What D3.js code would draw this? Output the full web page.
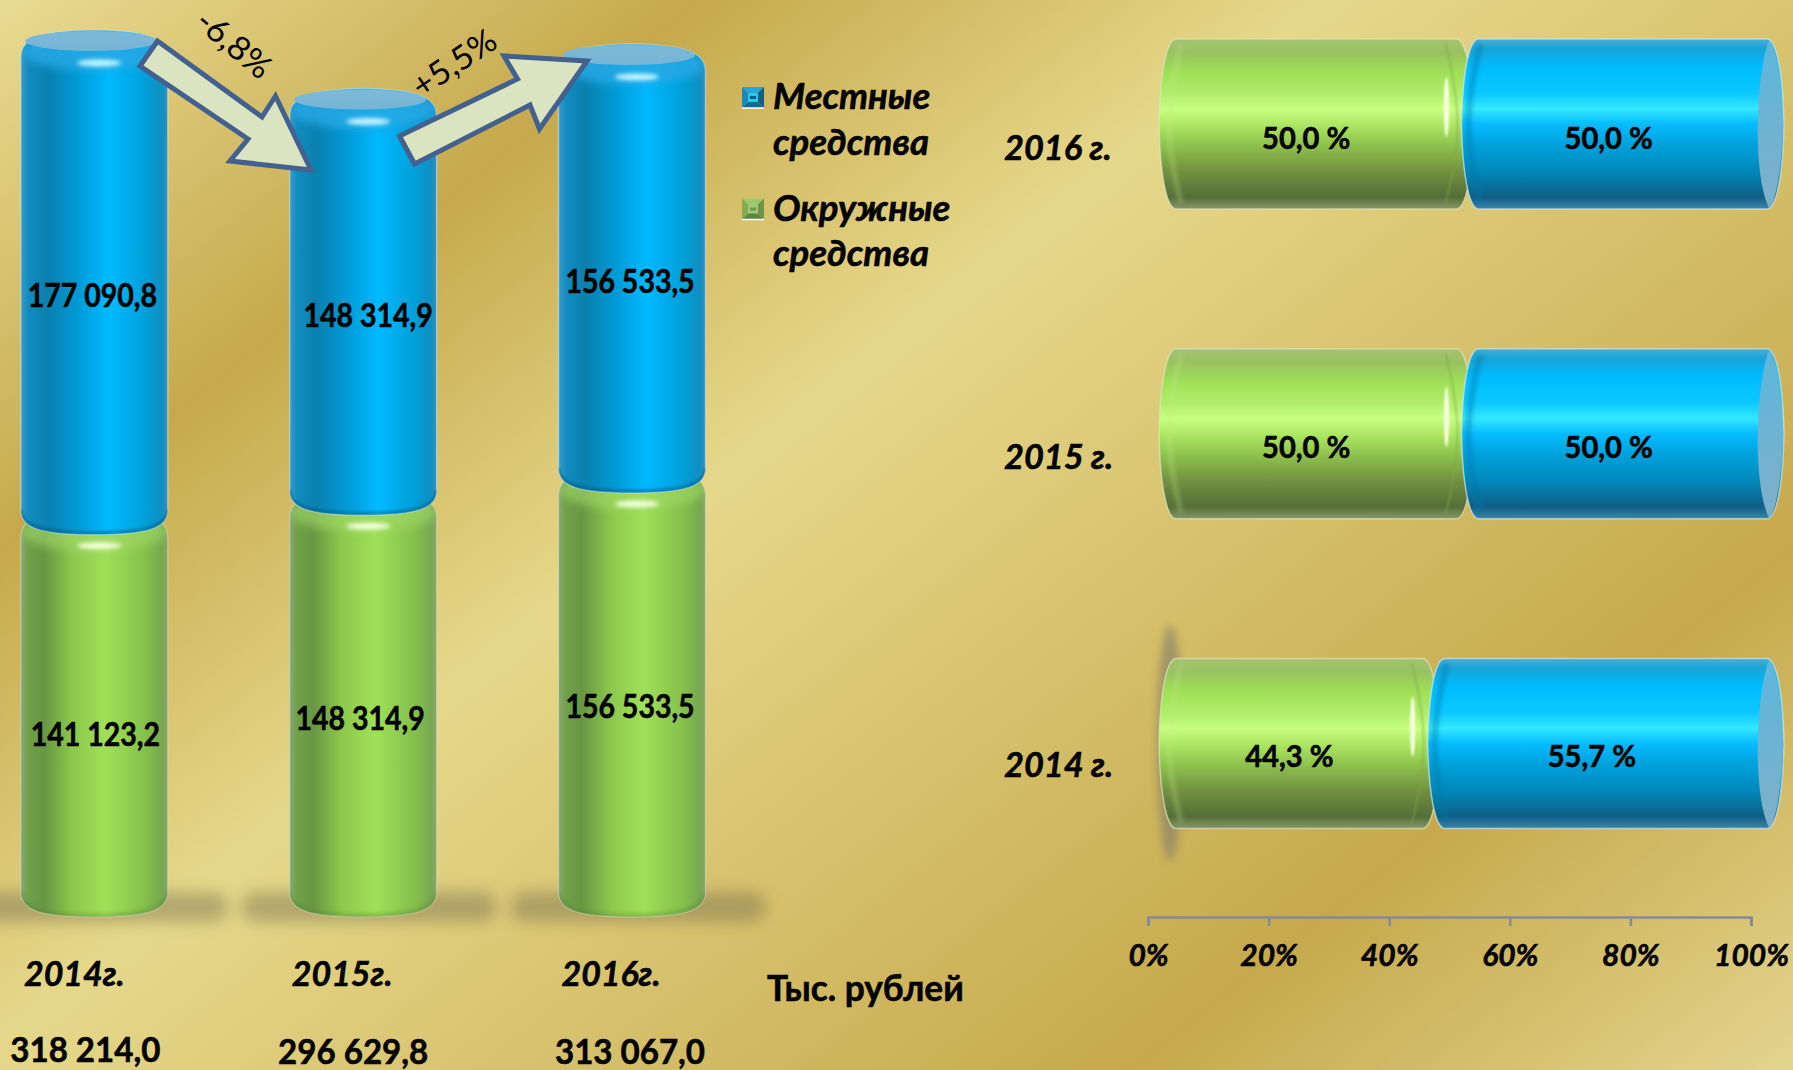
<!DOCTYPE html>
<html><head><meta charset="utf-8">
<script src="https://cdn.jsdelivr.net/npm/d3@7"></script>
<style>html,body{margin:0;padding:0;overflow:hidden;background:#d8c470}svg{display:block}
text{font-family:Lato,"Open Sans",sans-serif;font-weight:700;fill:#000;stroke:#000;stroke-width:.55px}</style></head><body>
<script>
const columnYears = ["2014г.","2015г.","2016г."];
const districtFunds = [141123.2,148314.9,156533.5];
const localFunds = [177090.8,148314.9,156533.5];
const totals = [318214.0,296629.8,313067.0];
const shareYears = ["2016 г.","2015 г.","2014 г."];
const shareDistrict = [50.0,50.0,44.3];
const shareLocal = [50.0,50.0,55.7];
const axisTicks = [0,20,40,60,80,100];
const legendLabels = [["Местные","средства"],["Окружные","средства"]];
const changes = ["-6,8%","+5,5%"];
const unitLabel = "Тыс. рублей";

const W=1793,H=1070;
const svg=d3.select("body").append("svg").attr("width",W).attr("height",H).attr("viewBox",[0,0,W,H]);
const defs=svg.append("defs");
const ru=d3.formatLocale({decimal:",",thousands:" ",grouping:[3],currency:["",""]});
const fmt=ru.format(",.1f");
function fit(sel,f=.9){sel.each(function(){const l=this.getComputedTextLength();d3.select(this).attr("textLength",l*f).attr("lengthAdjust","spacingAndGlyphs");});return sel;}
function grad(id,stops,x2,y2,extra){const g=defs.append("linearGradient").attr("id",id).attr("x1",0).attr("y1",0).attr("x2",x2).attr("y2",y2);
 if(extra)Object.entries(extra).forEach(([k,v])=>g.attr(k,v));
 stops.forEach(([o,c])=>g.append("stop").attr("offset",o).attr("stop-color",c));}
// background
grad("bg",[[0,"#e9db92"],[.222,"#c6a94c"],[.42,"#e6d88b"],[.79,"#c6a94c"],[1,"#e3d48d"]],1205,1532,{gradientUnits:"userSpaceOnUse"});
svg.append("rect").attr("width",W).attr("height",H).attr("fill","url(#bg)");
// cylinder gradients
grad("vBlue",[[0,"#3a9cc8"],[.05,"#128cc0"],[.18,"#0a80ae"],[.4,"#009cd8"],[.6,"#00baff"],[.85,"#009fd8"],[.96,"#118fc2"],[1,"#2f93bf"]],1,0);
grad("vGreen",[[0,"#8aa878"],[.05,"#70a048"],[.16,"#699644"],[.35,"#8cc84c"],[.58,"#a0e058"],[.85,"#84c04c"],[.96,"#78a850"],[1,"#87a86a"]],1,0);
grad("hBlue",[[0,"#4aaed6"],[.06,"#16a4d8"],[.17,"#00bcff"],[.32,"#0cc8ff"],[.41,"#33e8ff"],[.5,"#06bcff"],[.62,"#00a2dc"],[.78,"#0088ba"],[.93,"#0f5f86"],[1,"#3f86aa"]],0,1);
grad("hGreen",[[0,"#a6c274"],[.08,"#99c25f"],[.2,"#a0e058"],[.33,"#b2ee6c"],[.41,"#c8ff80"],[.5,"#aee864"],[.62,"#8fc44e"],[.78,"#72903f"],[.93,"#566e38"],[1,"#86986a"]],0,1);
grad("capV",[[0,"#7cb9da"],[1,"#76b4d4"]],0,1);
grad("capH",[[0,"#5cb8dc"],[.55,"#6fb2d2"],[1,"#7fb0c8"]],0,1);
const blur=(id,s)=>defs.append("filter").attr("id",id).attr("x","-50%").attr("y","-100%").attr("width","200%").attr("height","300%").append("feGaussianBlur").attr("stdDeviation",s);
blur("b1",1);blur("b2",2);blur("b3",4);blur("b8",8);

// ---------- stacked columns ----------
const x=d3.scalePoint().domain(columnYears).range([94.3,632]);
const y=d3.scaleLinear().domain([0,totals[0]]).range([904,42]);
const halfW=73.5, ry=12;
const rows=columnYears.map((c,i)=>({c,i,green:districtFunds[i],blue:localFunds[i],total:totals[i]}));
function cyl(xc,top,bot){
 const l=xc-halfW,r=xc+halfW;
 return `M${l},${top+16}C${l},${top-2} ${xc-halfW*.8},${top-ry+1} ${xc},${top-ry}`+
 `C${xc+halfW*.8},${top-ry+1} ${r},${top-2} ${r},${top+16}L${r},${bot-12}`+
 `C${r},${bot+7} ${xc+halfW*.72},${bot+ry+1} ${xc},${bot+ry+1}C${xc-halfW*.72},${bot+ry+1} ${l},${bot+7} ${l},${bot-12}Z`;
}
const seg=(d,a,b)=>cyl(x(d.c),y(b),y(a));
const col=svg.append("g").selectAll("g").data(rows).join("g");
// floor shadow
col.append("rect").attr("x",d=>x(d.c)-122).attr("y",y(0)-12).attr("width",256).attr("height",30).attr("rx",15)
 .attr("fill","#6e6648").attr("opacity",.42).attr("filter","url(#b8)");
// clips
rows.forEach(d=>{
 defs.append("clipPath").attr("id","cg"+d.i).append("path").attr("d",seg(d,0,d.green));
 defs.append("clipPath").attr("id","cb"+d.i).append("path").attr("d",seg(d,d.green,d.total));
});
// green segment
col.append("path").attr("d",d=>seg(d,0,d.green)).attr("fill","url(#vGreen)").attr("stroke","#d5dcc0").attr("stroke-opacity",.6).attr("stroke-width",1.2);
const gs=col.append("g").attr("clip-path",d=>`url(#cg${d.i})`);
gs.append("ellipse").attr("cx",d=>x(d.c)).attr("cy",d=>y(d.green)+10).attr("rx",halfW).attr("ry",ry+8).attr("fill","#9fd868").attr("opacity",.6).attr("filter","url(#b3)");
gs.append("path").attr("d",d=>{const xc=x(d.c),b=y(0);return `M${xc-halfW},${b-12}C${xc-halfW},${b+5} ${xc-50},${b+ry} ${xc},${b+ry}C${xc+50},${b+ry} ${xc+halfW},${b+5} ${xc+halfW},${b-12}`;})
 .attr("fill","none").attr("stroke","#587f3a").attr("stroke-width",4).attr("stroke-opacity",.5).attr("filter","url(#b2)");
col.append("ellipse").attr("cx",d=>x(d.c)+5).attr("cy",d=>y(d.green)+24).attr("rx",22).attr("ry",3.5).attr("fill","#f4ffdc").attr("filter","url(#b2)");
// blue segment
col.append("path").attr("d",d=>seg(d,d.green,d.total)).attr("fill","url(#vBlue)").attr("stroke","#d2e4e4").attr("stroke-opacity",.6).attr("stroke-width",1.4);
const bs=col.append("g").attr("clip-path",d=>`url(#cb${d.i})`);
bs.append("ellipse").attr("cx",d=>x(d.c)).attr("cy",d=>y(d.total)+9).attr("rx",halfW).attr("ry",ry+8).attr("fill","#28a8e4").attr("opacity",.85).attr("filter","url(#b3)");
bs.append("path").attr("d",d=>{const xc=x(d.c),b=y(d.green);return `M${xc-halfW},${b-12}C${xc-halfW},${b+5} ${xc-50},${b+ry-1} ${xc},${b+ry-1}C${xc+50},${b+ry-1} ${xc+halfW},${b+5} ${xc+halfW},${b-12}`;})
 .attr("fill","none").attr("stroke","#06587f").attr("stroke-width",3.5).attr("stroke-opacity",.5).attr("filter","url(#b1)");
col.append("ellipse").attr("cx",d=>x(d.c)-3).attr("cy",d=>y(d.total)-1).attr("rx",66).attr("ry",10).attr("fill","url(#capV)");
col.append("ellipse").attr("cx",d=>x(d.c)+5).attr("cy",d=>y(d.total)+21).attr("rx",22).attr("ry",3.5).attr("fill","#c4f6ff").attr("filter","url(#b2)");
// value labels
const greenNudge=[[1,33],[-3,27],[-2,26]], blueNudge=[[-2,25],[5,26],[-2,25]];
col.append("text").attr("text-anchor","middle").attr("font-size",32)
 .attr("x",d=>x(d.c)+greenNudge[d.i][0]).attr("y",d=>y(d.green/2)+greenNudge[d.i][1]).text(d=>fmt(d.green)).call(fit,.89);
col.append("text").attr("text-anchor","middle").attr("font-size",32)
 .attr("x",d=>x(d.c)+blueNudge[d.i][0]).attr("y",d=>y(d.green+d.blue/2)+blueNudge[d.i][1]).text(d=>fmt(d.blue)).call(fit,.89);
// category + total labels
const catNudge=[-20,-21,-21], totNudge=[-9,-10,-2];
col.append("text").attr("text-anchor","middle").attr("font-size",35).attr("font-style","italic")
 .attr("x",d=>x(d.c)+catNudge[d.i]).attr("y",986).text(d=>d.c).call(fit,.97);
col.append("text").attr("text-anchor","middle").attr("font-size",35)
 .attr("x",d=>x(d.c)+totNudge[d.i]).attr("y",d=>d.i?1064:1062).text(d=>fmt(d.total)).call(fit,.945);
svg.append("text").attr("x",767).attr("y",1001).attr("font-size",36).text(unitLabel).call(fit,.98);

// ---------- change arrows ----------
const arrowPts=[[[157.5,41],[140,66],[248,139],[230,161],[311,170],[275.5,96],[262,117]],
 [[399.5,136],[414.6,164],[530,105],[539.5,129],[587,61],[504,56],[517.5,79]]];
svg.append("g").selectAll("polygon").data(arrowPts).join("polygon").attr("points",d=>d.join(" "))
 .attr("fill","#dbe4c0").attr("stroke","#44608f").attr("stroke-width",5);
const chgPos=[[234,44,40],[454,63,-34]];
svg.append("g").selectAll("text").data(changes).join("text")
 .attr("transform",(d,i)=>`translate(${chgPos[i][0]},${chgPos[i][1]}) rotate(${chgPos[i][2]})`)
 .attr("text-anchor","middle").attr("dy","0.35em").attr("font-size",33).style("font-weight",400).style("stroke-width",0).text(d=>d).call(fit,1.03);

// ---------- legend ----------
const swatch=[["#2aa4d8","#1e88b8","#0f6a96","#115f85","#27c8f0"],["#9fc86a","#82ae50","#5f8440","#6e9448","#a4c878"]];
const lg=svg.append("g").selectAll("g").data(legendLabels).join("g").attr("transform",(d,i)=>`translate(742,${87+i*111.5})`);
const tri=[["M0,0H22L11,10.5Z",0],["M0,0V21L11,10.5Z",1],["M0,21H22L11,10.5Z",2],["M22,0V21L11,10.5Z",3]];
tri.forEach(([p,k])=>lg.append("path").attr("d",p).attr("fill",(d,i)=>swatch[i][k]));
lg.append("rect").attr("x",6).attr("y",6).attr("width",10).attr("height",9).attr("fill",(d,i)=>swatch[i][4]);
lg.append("rect").attr("x",8).attr("y",9).attr("width",6).attr("height",3).attr("fill",(d,i)=>swatch[i][3]);
lg.append("path").attr("d","M0,21H22").attr("stroke","#fff").attr("stroke-width",1.5);
lg.selectAll("text").data(d=>d).join("text").attr("x",31).attr("y",(d,i)=>22+i*45.5)
 .attr("font-size",37).attr("font-style","italic").text(d=>d).call(fit,.99);

// ---------- 100% stacked bars ----------
const axisX=d3.scaleLinear().domain([0,100]).range([1148,1751]);
const barX=d3.scaleLinear().domain([0,100]).range([1175,1768]);
const rowY=d3.scalePoint().domain(shareYears).range([124,743.5]);
const hh=85;
svg.append("ellipse").attr("cx",1170).attr("cy",rowY(shareYears[2])).attr("rx",13).attr("ry",118).attr("fill","#8c8468").attr("opacity",.72).attr("filter","url(#b3)");
function hcyl(l,r,cy){const t=cy-hh,u=cy+hh,ins=16;
 return `M${l+ins},${t}L${r-ins},${t}C${r-7},${t+3} ${r-1},${t+36} ${r},${cy}C${r-1},${u-36} ${r-7},${u-3} ${r-ins},${u}`+
 `L${l+ins},${u}C${l+7},${u-3} ${l+1},${u-36} ${l},${cy}C${l+1},${t+36} ${l+7},${t+3} ${l+ins},${t}Z`;}
function bow(px,cy,inset,span){ // a curved band following the bowed end of a cylinder
 return `M${px+inset},${cy-span}C${px+inset*.25},${cy-span*.55} ${px},${cy-span*.25} ${px},${cy}C${px},${cy+span*.25} ${px+inset*.25},${cy+span*.55} ${px+inset},${cy+span}`;}
const shareRows=shareYears.map((c,i)=>({c,i,g:shareDistrict[i],b:shareLocal[i]}));
const bar=svg.append("g").selectAll("g").data(shareRows).join("g");
bar.append("path").attr("d",d=>hcyl(barX(0)-16,barX(d.g)+2,rowY(d.c))).attr("fill","url(#hGreen)").attr("stroke","#dfe6c4").attr("stroke-opacity",.65).attr("stroke-width",1.5);
// bevel of the green ends
bar.append("path").attr("d",d=>bow(barX(0)-6,rowY(d.c),12,hh-6)).attr("fill","none").attr("stroke","#c4e88a").attr("stroke-width",5).attr("stroke-opacity",.3).attr("filter","url(#b2)");
bar.append("path").attr("d",d=>bow(barX(d.g)-14,rowY(d.c),-12,hh-4)).attr("fill","none").attr("stroke","#7fa64a").attr("stroke-width",2).attr("stroke-opacity",.5).attr("filter","url(#b1)");
bar.append("ellipse").attr("cx",d=>barX(d.g)-25).attr("cy",d=>rowY(d.c)-17).attr("rx",2.5).attr("ry",30).attr("fill","#fbffe6").attr("filter","url(#b1)");
// blue
bar.append("path").attr("d",d=>hcyl(barX(d.g)-10,barX(100)+16,rowY(d.c))).attr("fill","url(#hBlue)").attr("stroke","#cfe4ea").attr("stroke-opacity",.7).attr("stroke-width",1.5);
bar.append("path").attr("d",d=>bow(barX(d.g)-3,rowY(d.c),12,hh-5)).attr("fill","none").attr("stroke","#0577a8").attr("stroke-width",6).attr("stroke-opacity",.45).attr("filter","url(#b2)");
// right end face of the blue cylinder
bar.append("path").attr("d",d=>{const c=rowY(d.c),r=barX(100);return `M${r+1},${c-hh+1}C${r-12},${c-50} ${r-16},${c+50} ${r+1},${c+hh-1}C${r+9},${c+hh-6} ${r+15},${c+30} ${r+15},${c}C${r+15},${c-30} ${r+9},${c-hh+6} ${r+1},${c-hh+1}Z`;}).attr("fill","url(#capH)");
const shareLbl=d=>ru.format(".1f")(d)+" %";
const rowDy=[1,0,-2], shareLblDy=[0,-1,-2];
bar.append("text").attr("text-anchor","middle").attr("font-size",30).attr("x",d=>(barX(0)+barX(d.g))/2-17).attr("y",d=>rowY(d.c)+25+shareLblDy[d.i]).text(d=>shareLbl(d.g)).call(fit,.97);
bar.append("text").attr("text-anchor","middle").attr("font-size",30).attr("x",d=>(barX(d.g)+barX(100))/2-11).attr("y",d=>rowY(d.c)+25+shareLblDy[d.i]).text(d=>shareLbl(d.b)).call(fit,.97);
bar.append("text").attr("x",1004).attr("y",d=>rowY(d.c)+35+rowDy[d.i]).attr("font-size",35).attr("font-style","italic").text(d=>d.c).call(fit,.98);
// axis
const ax=svg.append("g").attr("transform","translate(0,917)").call(d3.axisBottom(axisX).tickValues(axisTicks).tickFormat(d=>d+"%").tickSize(9).tickPadding(19).tickSizeOuter(9));
ax.selectAll("path,line").attr("stroke","#858a9b").attr("stroke-width",2.5);
ax.selectAll("text").attr("font-size",30).attr("font-style","italic").attr("font-family",null).style("fill","#000").call(fit,1);
</script></body></html>
